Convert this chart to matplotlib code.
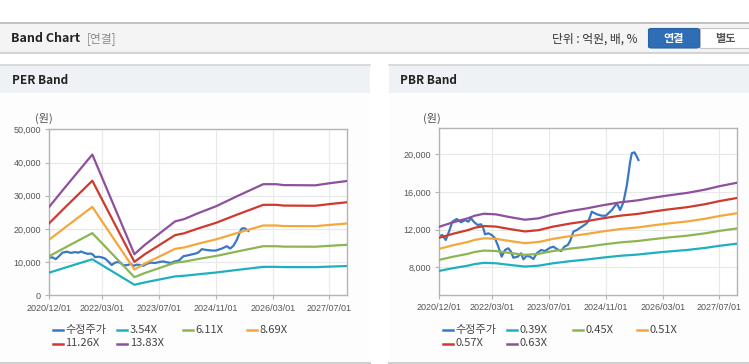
import matplotlib
matplotlib.use('Agg')
import matplotlib.pyplot as plt
from matplotlib.lines import Line2D
from matplotlib.patches import Rectangle, FancyBboxPatch
import pandas as pd

plt.rcParams['font.family'] = ['Noto Sans CJK KR', 'DejaVu Sans']

# 수정주가 (두 차트 공통)
price_dates = ['2020-12-01', '2020-12-27', '2021-01-25', '2021-02-22', '2021-03-23', '2021-04-29',
               '2021-06-05', '2021-07-10', '2021-08-07', '2021-08-30', '2021-09-27', '2021-10-27',
               '2021-11-24', '2021-12-14', '2021-12-28', '2022-01-26', '2022-02-24', '2022-03-24',
               '2022-04-21', '2022-05-20', '2022-06-18', '2022-07-16', '2022-08-08', '2022-08-28',
               '2022-10-05', '2022-11-02', '2022-11-22', '2022-12-21', '2023-01-19', '2023-02-16',
               '2023-03-17', '2023-04-23', '2023-05-27', '2023-07-09', '2023-08-07', '2023-09-05',
               '2023-10-12', '2023-11-09', '2023-12-08', '2023-12-28', '2024-01-25', '2024-02-23',
               '2024-04-06', '2024-05-11', '2024-06-02', '2024-07-01', '2024-08-13', '2024-09-25',
               '2024-10-29', '2024-12-20', '2025-02-01', '2025-03-01', '2025-03-29', '2025-04-28',
               '2025-05-26', '2025-06-09', '2025-07-02', '2025-07-22', '2025-08-05']
price_vals = [11300, 11430, 10900, 11780, 12840, 13130,
              12780, 13020, 12840, 13200, 12780, 12490,
              12570, 12140, 11500, 11610, 11430, 11080,
              10190, 9130, 9840, 10020, 9660, 9020,
              9130, 9490, 8850, 9230, 9130, 8880,
              9490, 9840, 9730, 10080, 10190, 9940,
              9730, 10190, 10370, 10790, 11780, 11960,
              12310, 12600, 12900, 13900, 13630, 13480,
              13480, 14080, 14800, 14080, 14900, 16740,
              19210, 20110, 20210, 19750, 19390]

# EPS (PER 밴드 기준)
eps_dates = ['2020-12-01', '2021-04-15', '2021-12-05', '2022-12-01', '2023-03-01', '2023-07-01',
             '2023-11-15', '2024-02-01', '2024-06-01', '2024-11-01', '2025-05-01', '2025-12-10',
             '2026-04-01', '2026-06-01', '2027-03-01', '2027-07-01', '2027-12-01']
eps_vals = [1930, 2350, 3065, 895, 1100, 1340,
            1610, 1660, 1790, 1940, 2160, 2420,
            2420, 2400, 2395, 2440, 2490]

# BPS (PBR 밴드 기준)
bps_dates = ['2020-12-01', '2021-04-01', '2021-08-01', '2021-10-01', '2021-12-20', '2022-04-01',
             '2022-08-01', '2022-12-05', '2023-04-01', '2023-08-01', '2024-01-01', '2024-05-01',
             '2024-10-01', '2025-03-01', '2025-08-01', '2025-12-01', '2026-04-01', '2026-10-01',
             '2027-03-01', '2027-07-01', '2027-12-01']
bps_vals = [19540, 20300, 20950, 21400, 21730, 21620,
            21150, 20720, 20950, 21600, 22200, 22570,
            23150, 23650, 23990, 24400, 24770, 25250,
            25800, 26370, 26960]

per_mult = [3.54, 6.11, 8.69, 11.26, 13.83]
pbr_mult = [0.39, 0.45, 0.51, 0.57, 0.63]

price_color = '#3a78c6'
band_colors = ['#1fb0c0', '#8db552', '#f4a73a', '#d0392d', '#8e509d']
x_ticks = ['2020/12/01', '2022/03/01', '2023/07/01', '2024/11/01', '2026/03/01', '2027/07/01']

W, H = 749, 364
fig = plt.figure(figsize=(W / 100, H / 100), dpi=100)
fig.patch.set_facecolor('white')


def rect(x, y, w, h):
    return [x / W, 1 - (y + h) / H, w / W, h / H]


def box(x, y, w, h, fc, ec='none', lw=0):
    fig.add_artist(Rectangle((x / W, 1 - (y + h) / H), w / W, h / H, transform=fig.transFigure,
                             facecolor=fc, edgecolor=ec, linewidth=lw, zorder=0))


def hline(x0, x1, y, color, lw=1.0):
    fig.add_artist(Line2D([x0 / W, x1 / W], [1 - y / H, 1 - y / H], transform=fig.transFigure,
                          color=color, linewidth=lw, zorder=1))


def text(x, y, s, **kw):
    fig.text(x / W, 1 - y / H, s, va='center', **kw)


# 상단 헤더
box(0, 22, W, 31, '#f4f4f4')
hline(0, W, 22.5, '#b8b8b8', 1.2)
hline(0, W, 53, '#d4d4d4', 1.5)
text(11, 38, 'Band Chart', fontsize=9, fontweight='bold', color='#222222')
text(87, 38.5, '[연결]', fontsize=8.5, color='#8a8a8a')
text(552, 39, '단위 : 억원, 배, %', fontsize=8.5, color='#333333')
fig.add_artist(FancyBboxPatch((648.5 / W, 1 - 48 / H), 51 / W, 19.5 / H, transform=fig.transFigure,
                              boxstyle='round,pad=0,rounding_size=0.004', facecolor='#2f6db4',
                              edgecolor='#2a62a3', linewidth=0.8, zorder=2))
box(700, 28.5, 52, 19.5, 'white', '#c4c4c4', 0.8)
text(674, 38.5, '연결', fontsize=8, fontweight='bold', color='white', ha='center', zorder=3)
text(725, 38.5, '별도', fontsize=8, fontweight='bold', color='#555555', ha='center')

# 패널
panels = [(0, 370, 'PER Band'), (389, W - 389, 'PBR Band')]
for px0, pw, title in panels:
    box(px0, 64, pw, 29, '#eef1f6')
    hline(px0, px0 + pw, 64.5, '#d6d6d6', 1.2)
    box(px0, 93, pw, 269, '#fdfdfd')
    hline(px0, px0 + pw, 362.5, '#d0d0d0', 1.5)
    text(px0 + 11.5, 80, title, fontsize=8.5, fontweight='bold', color='#222222')

xmin, xmax = pd.Timestamp('2020-12-01'), pd.Timestamp('2027-12-01')
tick_pos = pd.to_datetime(x_ticks)


def setup(ax, yticks, ylim):
    ax.set_facecolor('white')
    ax.set_xlim(xmin, xmax)
    ax.set_ylim(*ylim)
    ax.set_xticks(tick_pos)
    ax.set_xticklabels(x_ticks, fontfamily='Liberation Sans', fontsize=6.5, color='#555555')
    ax.set_yticks(yticks)
    ax.set_yticklabels([f'{v:,}' for v in yticks], fontfamily='Liberation Sans', fontsize=6.5,
                       color='#555555')
    ax.tick_params(length=3, color='#b4b4b4', width=0.8, pad=3)
    ax.grid(color='#e8e8e8', linewidth=0.8)
    ax.set_axisbelow(True)
    for sp in ax.spines.values():
        sp.set_color('#b4b4b4')
        sp.set_linewidth(1.0)


def draw(ax, base_dates, base_vals, mults):
    ax.plot(pd.to_datetime(price_dates), price_vals, color=price_color, lw=1.6, zorder=2)
    bd = pd.to_datetime(base_dates)
    for m, c in zip(mults, band_colors):
        ax.plot(bd, [v * m for v in base_vals], color=c, lw=1.6, zorder=3)


ax1 = fig.add_axes(rect(49.3, 129.3, 298, 166))
setup(ax1, [0, 10000, 20000, 30000, 40000, 50000], (0, 50000))
draw(ax1, eps_dates, eps_vals, per_mult)

ax2 = fig.add_axes(rect(439.3, 128.3, 298, 166.7))
setup(ax2, [8000, 12000, 16000, 20000], (5060, 22760))
draw(ax2, bps_dates, bps_vals, pbr_mult)

text(35, 118, '(원)', fontsize=8, color='#555555')
text(423, 118, '(원)', fontsize=8, color='#555555')

# 범례
col_x = [52.7, 117.3, 182.7, 247.3]
row_y = [330, 343.5]
for px0, mults in [(0, per_mult), (390, pbr_mult)]:
    labels = ['수정주가'] + [f'{m:.2f}X' for m in mults]
    colors = [price_color] + band_colors
    for i, (lab, c) in enumerate(zip(labels, colors)):
        x = px0 + col_x[i % 4]
        y = row_y[i // 4]
        fig.add_artist(Line2D([x / W, (x + 10) / W], [1 - y / H, 1 - y / H],
                              transform=fig.transFigure, color=c, linewidth=1.8))
        text(x + 12.5, y, lab, fontsize=8, color='#444444')

fig.savefig('out.png', dpi=100)
